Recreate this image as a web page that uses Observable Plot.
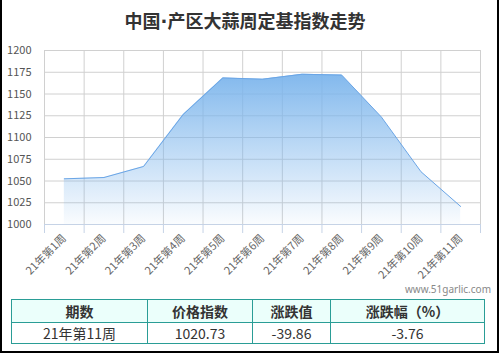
<!DOCTYPE html>
<html>
<head>
<meta charset="utf-8">
<script src="https://cdn.jsdelivr.net/npm/d3@7"></script>
<script src="https://cdn.jsdelivr.net/npm/@observablehq/plot@0.6"></script>
<style>
  html, body { margin: 0; padding: 0; background: #fff; }
  #wrap { position: relative; width: 500px; height: 353px; overflow: hidden; font-family: "Noto Sans CJK SC", "Noto Sans", sans-serif; }
  #frame { position: absolute; left: 0; top: 0; width: 499px; height: 353px; box-sizing: border-box; border-left: 2px solid #000; border-right: 2px solid #000; border-bottom: 2px solid #000; pointer-events: none; }
  #title { position: absolute; left: 0; top: 0; width: 490px; height: 40px; line-height: 40px; text-align: center; font-size: 18px; font-weight: bold; color: #333; }
  #title .dot { font-family: "DejaVu Sans", sans-serif; }
  #chart { position: absolute; left: 0; top: 40px; }
  #wm { position: absolute; right: 9px; top: 282px; font-size: 10px; color: #888; font-family: "Noto Sans", sans-serif; }
  table { position: absolute; left: 11px; top: 299px; width: 474px; border-collapse: collapse; font-size: 14px; color: #333; }
  td, th { border: 1px solid #2a9d96; text-align: center; padding: 0; }
  th { background: #ebfffb; height: 22px; font-weight: bold; }
  td { height: 20px; }
</style>
</head>
<body>
<div id="wrap">
  <div id="title">中国<span class="dot">·</span>产区大蒜周定基指数走势</div>
  <div id="chart"></div>
  <div id="wm">www.51garlic.com</div>
  <table>
    <tr><th style="width:135px">期数</th><th style="width:104px">价格指数</th><th style="width:77px">涨跌值</th><th>涨跌幅（%）</th></tr>
    <tr><td>21年第11周</td><td>1020.73</td><td>-39.86</td><td>-3.76</td></tr>
  </table>
  <div id="frame"></div>
</div>
<script>
const weeks = ["21年第1周","21年第2周","21年第3周","21年第4周","21年第5周","21年第6周","21年第7周","21年第8周","21年第9周","21年第10周","21年第11周"];
const values = [1052.5, 1054.0, 1066.7, 1126.5, 1168.5, 1167.0, 1172.7, 1171.7, 1123.5, 1060.59, 1020.73];
const yTicks = [1000, 1025, 1050, 1075, 1100, 1125, 1150, 1175, 1200];

const data = weeks.map((w, i) => ({i, w, v: values[i]}));
const centers = weeks.map((w, i) => i);
const bounds = weeks.map((w, i) => i - 0.5).concat([weeks.length - 0.5]);

const defs = () => {
  const d = d3.create("svg:defs");
  const g = d.append("linearGradient").attr("id", "areaGrad").attr("x1", 0).attr("y1", 0).attr("x2", 0).attr("y2", 1);
  g.append("stop").attr("offset", "0%").attr("stop-color", "#7cb5ec").attr("stop-opacity", 0.95);
  g.append("stop").attr("offset", "100%").attr("stop-color", "#7cb5ec").attr("stop-opacity", 0.04);
  return d.node();
};

const chart = Plot.plot({
  width: 500,
  height: 250,
  marginTop: 10,
  marginBottom: 66,
  marginLeft: 44,
  marginRight: 20,
  style: { fontFamily: "'Noto Sans CJK SC', 'Noto Sans', sans-serif", fontSize: "11px", color: "#666", background: "transparent" },
  x: { domain: [-0.5, weeks.length - 0.5] },
  y: { domain: [1000, 1200] },
  marks: [
    defs,
    Plot.gridY({ ticks: yTicks, stroke: "#d0d0d0", strokeOpacity: 1 }),
    Plot.gridX({ ticks: bounds, stroke: "#d0d0d0", strokeOpacity: 1 }),
    Plot.areaY(data, { x: "i", y1: 1000, y2: "v", fill: "url(#areaGrad)" }),
    Plot.lineY(data, { x: "i", y: "v", stroke: "#6aa5e6", strokeWidth: 1 }),
    Plot.ruleY([1000], { stroke: "#c6d3e6" }),
    Plot.axisX({ ticks: bounds, tickSize: 9, tickFormat: () => "", stroke: "#c6d3e6", label: null }),
    Plot.axisX({ ticks: centers, tickSize: 0, tickPadding: 12, tickRotate: -45, tickFormat: i => weeks[i], fill: "#666", label: null }),
    Plot.axisY({ ticks: yTicks, tickSize: 0, tickPadding: 13, tickFormat: d => String(d), fill: "#555", label: null })
  ]
});
document.getElementById("chart").appendChild(chart);
</script>
</body>
</html>
